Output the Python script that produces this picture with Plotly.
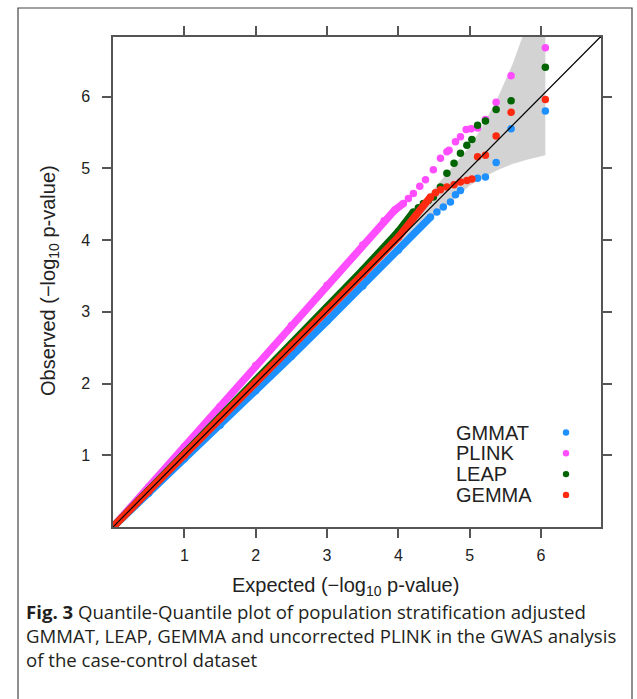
import plotly.graph_objects as go

# ---------------- data ----------------
series_names = ["GMMAT", "PLINK", "LEAP", "GEMMA"]
series_colors = ["#1e90ff", "#ff4dff", "#006400", "#ff2a10"]

# dense part of each QQ curve (points overlap into a thick band)
gmmat_dense_x = [0.0, 0.5, 1.0, 1.5, 2.0, 2.5, 3.0, 3.5, 4.0, 4.45]
gmmat_dense_y = [0.0, 0.47, 0.95, 1.42, 1.90, 2.38, 2.87, 3.36, 3.86, 4.32]
plink_dense_x = [0.0, 0.5, 1.0, 1.5, 2.0, 2.5, 3.0, 3.5, 3.8, 3.95, 4.07]
plink_dense_y = [0.0, 0.56, 1.12, 1.68, 2.25, 2.81, 3.37, 3.93, 4.27, 4.42, 4.51]
leap_dense_x = [0.0, 0.5, 1.0, 1.5, 2.0, 2.5, 3.0, 3.5, 4.0, 4.21]
leap_dense_y = [0.0, 0.51, 1.02, 1.53, 2.04, 2.55, 3.06, 3.58, 4.12, 4.39]
gemma_dense_x = [0.0, 0.5, 1.0, 1.5, 2.0, 2.5, 3.0, 3.5, 4.0, 4.45]
gemma_dense_y = [0.0, 0.50, 1.00, 1.51, 2.01, 2.51, 3.02, 3.52, 4.04, 4.60]

# sparse upper tail (individual points)
gmmat_tail_x = [4.54, 4.63, 4.73, 4.80, 4.87, 5.11, 5.22, 5.37, 5.58, 6.06]
gmmat_tail_y = [4.39, 4.46, 4.53, 4.63, 4.69, 4.86, 4.88, 5.08, 5.55, 5.80]
plink_tail_x = [4.14, 4.21, 4.30, 4.38, 4.49, 4.59, 4.68, 4.71, 4.80, 4.87, 4.95, 5.02, 5.11, 5.22, 5.37, 5.58, 6.06]
plink_tail_y = [4.58, 4.65, 4.75, 4.84, 4.98, 5.14, 5.23, 5.25, 5.37, 5.44, 5.54, 5.55, 5.56, 5.68, 5.92, 6.29, 6.68]
leap_tail_x = [4.28, 4.35, 4.42, 4.49, 4.59, 4.68, 4.78, 4.87, 4.96, 5.03, 5.11, 5.22, 5.37, 5.58, 6.06]
leap_tail_y = [4.45, 4.51, 4.55, 4.60, 4.74, 4.93, 5.07, 5.21, 5.32, 5.40, 5.60, 5.66, 5.82, 5.94, 6.41]
gemma_tail_x = [4.52, 4.59, 4.68, 4.78, 4.87, 4.96, 5.03, 5.11, 5.22, 5.37, 5.58, 6.06]
gemma_tail_y = [4.66, 4.70, 4.74, 4.77, 4.81, 4.83, 4.85, 5.16, 5.18, 5.45, 5.78, 5.96]

# 95% confidence band around the diagonal
band_x = [0.0, 1.0, 2.0, 3.0, 3.5, 4.0, 4.5, 5.0, 5.2, 5.4, 5.6, 5.8, 6.06]
band_lower = [0.0, 0.99, 1.97, 2.94, 3.42, 3.88, 4.33, 4.76, 4.88, 4.98, 5.06, 5.12, 5.18]
band_upper = [0.0, 1.01, 2.03, 3.07, 3.59, 4.14, 4.72, 5.30, 5.62, 6.00, 6.45, 7.00, 7.80]

x_ticks = [1, 2, 3, 4, 5, 6]
y_ticks = [1, 2, 3, 4, 5, 6]
x_range = [0, 6.84]
y_range = [0, 6.83]

caption_lines = [
    "<b>Fig. 3</b> Quantile-Quantile plot of population stratification adjusted",
    "GMMAT, LEAP, GEMMA and uncorrected PLINK in the GWAS analysis",
    "of the case-control dataset",
]

# ---------------- figure ----------------
W, H = 637, 699
ML, MR, MT, MB = 113, 36, 37, 172
PW, PH = W - ML - MR, H - MT - MB


def px_to_paper(px, py):
    return (px - ML) / PW, (H - MB - py) / PH


fig = go.Figure()

# confidence band
fig.add_trace(go.Scatter(
    x=band_x + band_x[::-1], y=band_lower + band_upper[::-1],
    mode="lines", fill="toself", fillcolor="#d3d3d3",
    line=dict(width=0, color="#d3d3d3"), hoverinfo="skip", showlegend=False))

dense = [(gmmat_dense_x, gmmat_dense_y), (plink_dense_x, plink_dense_y),
         (leap_dense_x, leap_dense_y), (gemma_dense_x, gemma_dense_y)]
tails = [(gmmat_tail_x, gmmat_tail_y), (plink_tail_x, plink_tail_y),
         (leap_tail_x, leap_tail_y), (gemma_tail_x, gemma_tail_y)]

for name, col, (dx, dy), (tx, ty) in zip(series_names, series_colors, dense, tails):
    fig.add_trace(go.Scatter(x=dx, y=dy, mode="lines+markers",
                             line=dict(color=col, width=7.5),
                             marker=dict(color=col, size=7.5, line=dict(width=0)),
                             name=name, showlegend=False))
    fig.add_trace(go.Scatter(x=tx, y=ty, mode="markers",
                             marker=dict(color=col, size=7.5, line=dict(width=0)),
                             name=name, showlegend=False))

# identity line
fig.add_trace(go.Scatter(x=[0, 7], y=[0, 7], mode="lines",
                         line=dict(color="black", width=1.2),
                         hoverinfo="skip", showlegend=False))

axis_common = dict(
    showgrid=False, zeroline=False, showline=True, mirror="ticks",
    linecolor="#555555", linewidth=1.5, ticks="outside", ticklen=9,
    tickwidth=1.5, tickcolor="#555555",
    tickfont=dict(family="Liberation Sans, Arial", size=16, color="#222222"),
)
fig.update_xaxes(range=x_range, tickvals=x_ticks, ticklabelstandoff=4, **axis_common)
fig.update_yaxes(range=y_range, tickvals=y_ticks, ticklabelstandoff=9, **axis_common)

annotations = []
# axis titles
annotations.append(dict(
    text="Expected (\u2212log<sub>10</sub> p-value)", xref="paper", yref="paper",
    x=px_to_paper(345, 0)[0], y=px_to_paper(0, 586)[1], showarrow=False,
    xanchor="center", yanchor="middle",
    font=dict(family="Liberation Sans, Arial", size=20, color="#222222")))
annotations.append(dict(
    text="Observed (\u2212log<sub>10</sub> p-value)", xref="paper", yref="paper",
    x=px_to_paper(49, 0)[0], y=px_to_paper(0, 281)[1], showarrow=False,
    textangle=-90, xanchor="center", yanchor="middle",
    font=dict(family="Liberation Sans, Arial", size=20, color="#222222")))

# legend (text left, dot right)
legend_y = [432.5, 453.3, 474.1, 494.9]
for name, col, ly in zip(series_names, series_colors, legend_y):
    annotations.append(dict(
        text=name, xref="paper", yref="paper",
        x=px_to_paper(454, 0)[0], y=px_to_paper(0, ly)[1], showarrow=False,
        xanchor="left", yanchor="middle",
        font=dict(family="Liberation Sans, Arial", size=20, color="#222222")))

# caption
cap_y = [611, 635, 659]
for line, cy in zip(caption_lines, cap_y):
    annotations.append(dict(
        text=line, xref="paper", yref="paper",
        x=px_to_paper(24, 0)[0], y=px_to_paper(0, cy)[1], showarrow=False,
        xanchor="left", yanchor="middle",
        font=dict(family="Open Sans", size=18.6, color="#231f20")))

shapes = []
for col, ly in zip(series_colors, legend_y):
    r = 3.2
    x0, y0 = px_to_paper(566 - r, ly + r)
    x1, y1 = px_to_paper(566 + r, ly - r)
    shapes.append(dict(type="circle", xref="paper", yref="paper",
                       x0=x0, y0=y0, x1=x1, y1=y1,
                       fillcolor=col, line=dict(width=0)))

# outer frame of the figure panel
fx0, fy0 = px_to_paper(18, 8)
fx1, fy1 = px_to_paper(632, 705)
shapes.append(dict(type="rect", xref="paper", yref="paper",
                   x0=fx0, y0=fy1, x1=fx1, y1=fy0,
                   line=dict(color="#444444", width=1.2), layer="below"))

fig.update_layout(
    width=W, height=H,
    margin=dict(l=ML, r=MR, t=MT, b=MB),
    paper_bgcolor="white", plot_bgcolor="white",
    annotations=annotations, shapes=shapes, showlegend=False,
)

fig.write_html("out.html", config={"displayModeBar": False},
               post_script="document.body.style.margin='0';")
